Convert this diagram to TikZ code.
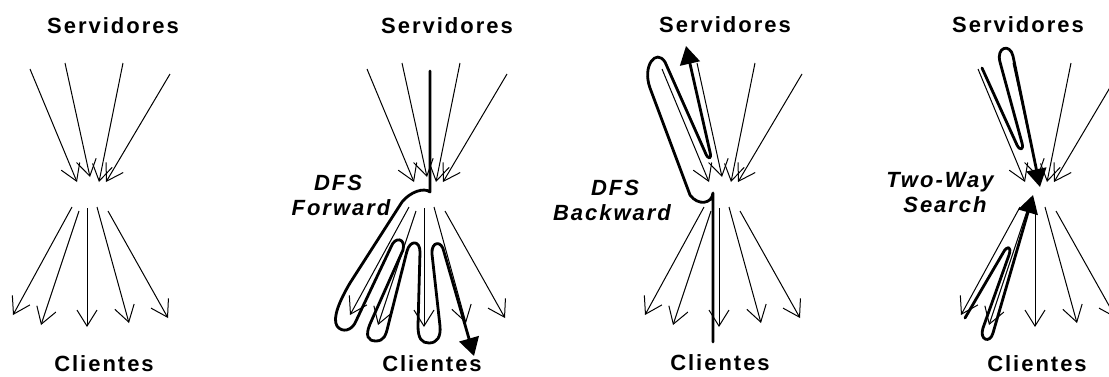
\documentclass[tikz,border=0pt]{standalone}
\usepackage{fontspec}
\setmainfont{Liberation Sans}[LetterSpace=9]
\usetikzlibrary{arrows.meta}
\newcommand\myfan[1]{%
 \begin{scope}[shift={(#1,0)}]
  \draw[thinarrow] (-57,69) -- (-10,182);
  \draw[thinarrow] (-22,63) -- (3,177);
  \draw[thinarrow] (36,63) -- (12,182);
  \draw[thinarrow] (83,74) -- (19,182);
  \draw[thinarrow] (-15,207) -- (-74,315);
  \draw[thinarrow] (-8,211) -- (-46,325);
  \draw[thinarrow] (0,208) -- (0,327);
  \draw[thinarrow] (10,207) -- (42,323);
  \draw[thinarrow] (21,211) -- (81,318);
 \end{scope}}
\begin{document}
\begin{tikzpicture}[x=0.5pt,y=-0.5pt,
  thinarrow/.style={line width=0.5pt,-{Straight Barb[length=8pt,width=10pt]}},
  tour/.style={line width=1.4pt,line join=round,line cap=round},
  tourtip/.style={tour,-{Triangle[length=9pt,width=10pt]}},
  lbl/.style={font=\fontsize{11}{13}\selectfont\bfseries,inner sep=0pt},
  ilbl/.style={font=\fontsize{11}{13}\selectfont\bfseries\itshape,inner sep=0pt}]
\useasboundingbox (0,0) rectangle (1109,376);
\clip (0,0) rectangle (1109,376);
% panel 1
\node[lbl] (s1) at (113,26) {Servidores};
\node[lbl] (c1) at (104,364) {Clientes};
\myfan{87}
% panel 2
\node[lbl] (s2) at (447,26) {Servidores};
\node[lbl] (c2) at (432,364) {Clientes};
\node[ilbl] (d2) at (338,183) {DFS};
\node[ilbl] (f2) at (341,208) {Forward};
\myfan{424}
\draw[tourtip] (430,71) -- (430,192)
  .. controls (424,187) and (410,192) .. (402,202)
  -- (350,283)
  .. controls (340,300) and (332,318) .. (337,326)
  .. controls (342,333) and (352,331) .. (356,321)
  -- (391,247)
  .. controls (395,236) and (406,238) .. (403,250)
  -- (370,324)
  .. controls (365,336) and (368,341) .. (376,341)
  .. controls (384,341) and (386,335) .. (388,326)
  -- (407,251)
  .. controls (410,240) and (420,240) .. (420,252)
  -- (418,326)
  .. controls (418,339) and (422,343) .. (429,343)
  .. controls (437,343) and (441,337) .. (440,326)
  -- (432,254)
  .. controls (431,241) and (442,240) .. (444,252)
  -- (474,356);
% panel 3
\node[lbl] (s3) at (725,25) {Servidores};
\node[lbl] (c3) at (720,363) {Clientes};
\node[ilbl] (d3) at (615,188) {DFS};
\node[ilbl] (b3) at (612,213) {Backward};
\myfan{719}
\draw[tourtip] (713,342) -- (713,193)
  .. controls (712,204) and (698,206) .. (690,195)
  -- (650,88)
  .. controls (642,66) and (656,48) .. (665,62)
  -- (705,152)
  .. controls (708,160) and (712,160) .. (710,152)
  -- (686,46);
% panel 4
\node[lbl] (s4) at (1018,25) {Servidores};
\node[lbl] (c4) at (1037,364) {Clientes};
\node[ilbl] (t4) at (940,182) {Two-Way};
\node[ilbl] (r4) at (945,205) {Search};
\myfan{1035}
\draw[tourtip] (982,68) -- (1017,145)
  .. controls (1020,151) and (1024,150) .. (1022,143)
  -- (1000,62)
  .. controls (996,47) and (1010,43) .. (1013,56)
  -- (1040,187);
\draw[tourtip] (965,318) -- (1003,253)
  .. controls (1007,245) and (1012,246) .. (1009,255)
  -- (983,328)
  .. controls (979,340) and (990,344) .. (993,333)
  -- (1033,195);
\end{tikzpicture}
\end{document}
